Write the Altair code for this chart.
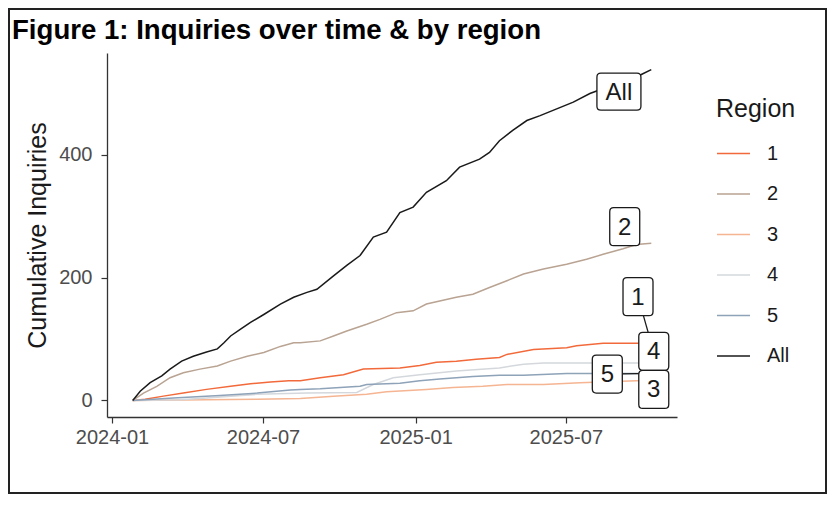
import altair as alt
import pandas as pd

# ---------------- data ----------------
series_names = ["1", "2", "3", "4", "5", "All"]
series_colors = ["#F26A3B", "#B9A392", "#F5B592", "#D4D8DC", "#8EA2B8", "#1A1A1A"]

all_dates = ["2024-01-26", "2024-02-04", "2024-02-16", "2024-03-01", "2024-03-11", "2024-03-25",
             "2024-04-08", "2024-04-24", "2024-05-07", "2024-05-15", "2024-05-23", "2024-06-04",
             "2024-06-16", "2024-07-02", "2024-07-22", "2024-08-07", "2024-08-23", "2024-09-04",
             "2024-09-24", "2024-10-10", "2024-10-26", "2024-11-11", "2024-11-27", "2024-12-13",
             "2024-12-29", "2025-01-14", "2025-02-07", "2025-02-23", "2025-03-19", "2025-03-31",
             "2025-04-12", "2025-04-28", "2025-05-15", "2025-05-31", "2025-06-20", "2025-07-10",
             "2025-07-30", "2025-09-30", "2025-10-12"]
all_values = [0, 15, 29, 40, 51, 64, 72, 79, 84, 94, 105, 116, 127, 140, 157, 168, 176, 181,
              203, 220, 236, 266, 274, 306, 315, 339, 358, 380, 393, 404, 423, 440, 456, 464,
              475, 486, 500, 531, 539]

r2_dates = ["2024-01-26", "2024-02-08", "2024-02-24", "2024-03-11", "2024-03-27", "2024-04-16",
            "2024-05-07", "2024-05-23", "2024-06-12", "2024-07-02", "2024-07-22", "2024-08-07",
            "2024-08-15", "2024-09-08", "2024-09-24", "2024-10-10", "2024-11-03", "2024-11-19",
            "2024-12-09", "2024-12-29", "2025-01-14", "2025-01-30", "2025-02-19", "2025-03-11",
            "2025-03-31", "2025-04-21", "2025-05-11", "2025-06-04", "2025-07-02", "2025-07-26",
            "2025-08-15", "2025-09-08", "2025-09-24", "2025-10-12"]
r2_values = [0, 12, 23, 37, 45, 51, 56, 64, 72, 78, 88, 94, 94, 97, 105, 113, 124, 132, 143, 146,
             157, 162, 168, 173, 184, 195, 206, 214, 222, 230, 238, 247, 254, 256]

r1_dates = ["2024-01-26", "2024-02-10", "2024-03-03", "2024-03-27", "2024-04-24", "2024-05-23",
            "2024-06-16", "2024-07-10", "2024-08-01", "2024-08-15", "2024-09-08", "2024-10-06",
            "2024-10-30", "2024-12-13", "2025-01-06", "2025-01-26", "2025-02-19", "2025-03-15",
            "2025-04-12", "2025-04-21", "2025-05-23", "2025-07-02", "2025-07-14", "2025-08-15",
            "2025-10-12"]
r1_values = [0, 2, 7, 12, 18, 23, 27, 30, 32, 32, 37, 42, 51, 53, 57, 62, 64, 67, 70, 75, 83, 86,
             89, 93, 93]

r3_dates = ["2024-01-26", "2024-04-24", "2024-06-24", "2024-08-15", "2024-09-24", "2024-11-03",
            "2024-11-27", "2025-01-14", "2025-02-15", "2025-03-23", "2025-04-21", "2025-06-04",
            "2025-07-18", "2025-09-24", "2025-10-12"]
r3_values = [0, 1, 2, 3, 7, 10, 14, 18, 21, 23, 26, 26, 29, 32, 32]

r4_dates = ["2024-01-26", "2024-03-23", "2024-04-24", "2024-06-24", "2024-08-23", "2024-10-22",
            "2024-11-11", "2024-12-05", "2025-01-06", "2025-02-19", "2025-04-12", "2025-05-11",
            "2025-06-04", "2025-10-12"]
r4_values = [0, 1, 4, 10, 12, 13, 26, 37, 42, 48, 53, 59, 61, 61]

r5_dates = ["2024-01-26", "2024-03-15", "2024-05-10", "2024-06-24", "2024-08-03", "2024-08-15",
            "2024-09-08", "2024-10-26", "2024-11-03", "2024-12-13", "2025-01-06", "2025-01-30",
            "2025-03-11", "2025-04-12", "2025-05-11", "2025-07-02", "2025-10-12"]
r5_values = [0, 4, 8, 12, 17, 18, 19, 23, 26, 28, 32, 35, 39, 41, 41, 44, 44]

# repelled label boxes (text, box centre) and leader segments
label_texts = ["All", "2", "1", "4", "5", "3"]
label_dates = ["2025-09-03", "2025-09-10", "2025-09-26", "2025-10-15", "2025-08-20", "2025-10-15"]
label_values = [503, 283, 169, 80, 43, 18]

seg_from_dates = ["2025-09-26", "2025-08-20"]
seg_from_values = [169, 43]
seg_to_dates = ["2025-10-12", "2025-10-12"]
seg_to_values = [93, 44]

x_ticks = ["2024-01-01", "2024-07-01", "2025-01-01", "2025-07-01"]
y_ticks = [0, 200, 400]

# ---------------- tables ----------------
rows = []
for name, ds, vs in [("1", r1_dates, r1_values), ("2", r2_dates, r2_values),
                     ("3", r3_dates, r3_values), ("4", r4_dates, r4_values),
                     ("5", r5_dates, r5_values), ("All", all_dates, all_values)]:
    for d, v in zip(ds, vs):
        rows.append({"date": d, "value": v, "Region": name})
df = pd.DataFrame(rows)
df["date"] = pd.to_datetime(df["date"])

labels = pd.DataFrame({"text": label_texts, "date": pd.to_datetime(label_dates),
                       "value": label_values})
segs = pd.DataFrame({"date": pd.to_datetime(seg_from_dates), "value": seg_from_values,
                     "date2": pd.to_datetime(seg_to_dates), "value2": seg_to_values})
frame_df = pd.DataFrame({"a": [0]})

FONT = "Liberation Sans"
W, H = 570, 364


def dt(s):
    y, m, d = [int(p) for p in s.split("-")]
    return alt.DateTime(year=y, month=m, date=d)


def rounded_rect_path(hw, hh, r):
    return (f"M {-hw + r} {-hh} L {hw - r} {-hh} Q {hw} {-hh} {hw} {-hh + r} "
            f"L {hw} {hh - r} Q {hw} {hh} {hw - r} {hh} L {-hw + r} {hh} "
            f"Q {-hw} {hh} {-hw} {hh - r} L {-hw} {-hh + r} Q {-hw} {-hh} {-hw + r} {-hh} Z")


x_scale = alt.Scale(domain=[dt("2023-12-26"), dt("2025-11-12")], nice=False)
y_scale = alt.Scale(domain=[-27, 566], nice=False, zero=False)

x_enc = alt.X("date:T", scale=x_scale,
              axis=alt.Axis(values=[dt(s) for s in x_ticks], format="%Y-%m", title=None,
                            labelFontSize=20, labelColor="#4D4D4D", labelFont=FONT,
                            tickSize=6, tickColor="#333333", tickWidth=1.2,
                            domainColor="#333333", domainWidth=1.3, labelPadding=4,
                            grid=False, labelFlush=False))
y_enc = alt.Y("value:Q", scale=y_scale,
              axis=alt.Axis(values=y_ticks, title="Cumulative Inquiries",
                            titleFontSize=25, titleFont=FONT, titleFontWeight="normal",
                            titleColor="#1A1A1A", titlePadding=8,
                            labelFontSize=20, labelColor="#4D4D4D", labelFont=FONT,
                            tickSize=6, tickColor="#333333", tickWidth=1.2,
                            domainColor="#333333", domainWidth=1.3, labelPadding=9,
                            grid=False))

frame = alt.Chart(frame_df).mark_rect(fill=None, stroke="#222222", strokeWidth=2).encode(
    x=alt.value(-98), x2=alt.value(W + 149), y=alt.value(-44), y2=alt.value(H + 76))

lines = alt.Chart(df).mark_line(strokeWidth=1.5).encode(
    x=x_enc, y=y_enc,
    color=alt.Color("Region:N",
                    scale=alt.Scale(domain=series_names, range=series_colors),
                    legend=alt.Legend(title="Region", orient="none", legendX=609, legendY=44,
                                      symbolType="stroke", symbolSize=1089,
                                      symbolStrokeWidth=1.6, titleFontSize=25,
                                      titleFont=FONT, titleFontWeight="normal",
                                      titleColor="#1A1A1A", titlePadding=14,
                                      labelFontSize=20, labelFont=FONT, labelColor="#1A1A1A",
                                      labelOffset=16, rowPadding=12.5)),
    order=alt.Order("date:T"))

segments = alt.Chart(segs).mark_rule(color="#1A1A1A", strokeWidth=1.3).encode(
    x="date:T", y="value:Q", x2="date2:T", y2="value2:Q")

box_all = alt.Chart(labels).transform_filter(alt.datum.text == "All").mark_point(
    shape=rounded_rect_path(1, 0.841, 0.18), size=1936, filled=True, fill="white",
    stroke="#1A1A1A", strokeWidth=1.3, opacity=1, fillOpacity=1, strokeOpacity=1).encode(
    x="date:T", y="value:Q")

box_num = alt.Chart(labels).transform_filter(alt.datum.text != "All").mark_point(
    shape=rounded_rect_path(0.789, 1, 0.21), size=1444, filled=True, fill="white",
    stroke="#1A1A1A", strokeWidth=1.3, opacity=1, fillOpacity=1, strokeOpacity=1).encode(
    x="date:T", y="value:Q")

texts = alt.Chart(labels).mark_text(fontSize=24, font=FONT, color="#1A1A1A",
                                    baseline="middle", align="center", dy=1).encode(
    x="date:T", y="value:Q", text="text:N")

chart = alt.layer(frame, lines, segments, box_all, box_num, texts).properties(
    width=W, height=H,
    title=alt.TitleParams("Figure 1: Inquiries over time & by region", anchor="start",
                          frame="group", dx=-95, dy=46, offset=9, fontSize=27.6, font=FONT,
                          fontWeight="bold", color="#000000"),
    autosize=alt.AutoSizeParams(type="none"),
    padding={"left": 99, "top": 45, "right": 150, "bottom": 77},
    background="white",
).configure_view(stroke=None)

chart.save("out.html", embed_options={"renderer": "svg", "actions": False})
